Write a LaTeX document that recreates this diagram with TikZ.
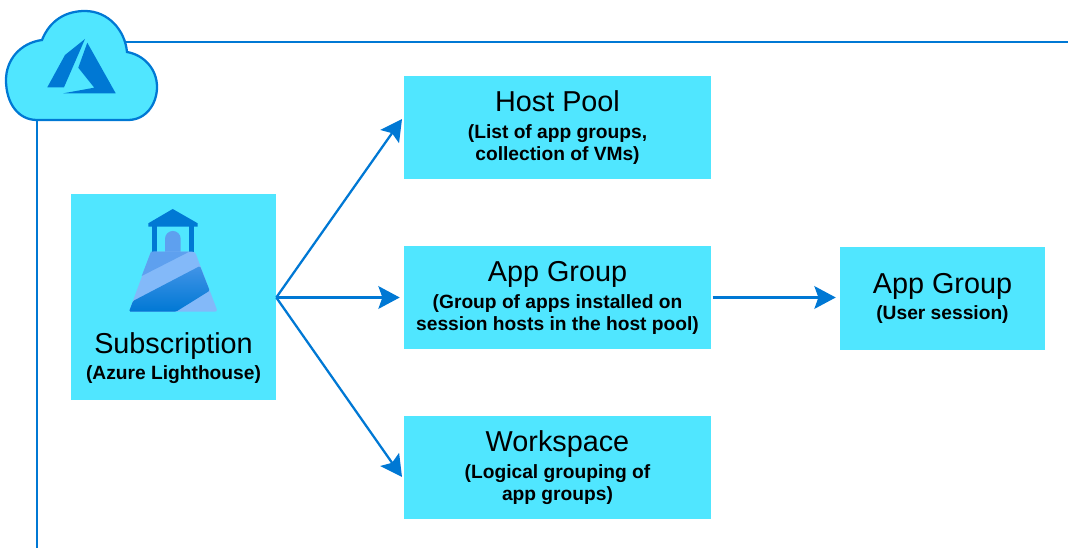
\documentclass[tikz,border=0pt]{standalone}
\usepackage{fontspec}
\setmainfont{Liberation Sans}
\usetikzlibrary{positioning,arrows.meta}
\definecolor{azblue}{HTML}{0078D4}
\definecolor{azcyan}{HTML}{50E6FF}
\definecolor{azmid}{HTML}{5EA0EF}
\definecolor{azlight}{HTML}{83B9F9}
\newcommand{\boxhead}[1]{{\fontsize{21.6pt}{26pt}\selectfont\mdseries #1}}
\tikzset{
	azbox/.style={fill=azcyan, minimum width=230.25pt, minimum height=77.25pt, align=center, inner sep=0pt, font=\fontsize{14.4pt}{16.5pt}\selectfont\bfseries},
	azlabel/.style={align=center, inner sep=0pt, font=\fontsize{14.4pt}{16.5pt}\selectfont\bfseries},
	azline/.style={draw=azblue, line width=1.7pt},
	azarrow/.style={azline, -{Stealth[length=16pt, width=17pt, inset=3pt]}}
}
\begin{document}
\begin{tikzpicture}[x=0.75pt, y=-0.75pt]
	\useasboundingbox (0,0) rectangle (1068,548);
	\coordinate (F0) at (37,548);
	\coordinate (F1) at (37,110);
	\coordinate (F2) at (120,42);
	\coordinate (F3) at (1068,42);
	\coordinate (hosttip) at (402,119);
	\coordinate (spacetip) at (402,477);
% frame
	\draw[azline] (F0) -- (F1);
	\draw[azline] (F2) -- (F3);
	% cloud
	\draw[azline, fill=azcyan] (37,120) -- (128,120)
		.. controls (146,120) and (157,104) .. (157,87)
		.. controls (157,69) and (144,55) .. (127,52)
		.. controls (125,30) and (108,11) .. (85,11)
		.. controls (66,11) and (50,20) .. (42,40)
		.. controls (20,43) and (6,60) .. (6,80)
		.. controls (6,103) and (18,120) .. (37,120) -- cycle;
	% azure logo
	\fill[azblue] (85,39) -- (65,55) -- (47.3,87.3) -- (64,87.3) -- cycle;
	\fill[azblue] (87.3,42.7) -- (78.3,67.7) -- (94.3,87.7) -- (63.3,93.3) -- (115.7,93.3) -- cycle;
	% boxes
	\node[azbox, minimum width=153.75pt, minimum height=154.5pt] (subscription) at (173.5,297.5) {};
	\node[azbox] (hostpool) at (557.5,127.5) {\boxhead{Host Pool}\\[3.75pt](List of app groups,\\collection of VMs)};
	\node[azbox] (appgroup) at (557.5,297.5) {\boxhead{App Group}\\[3.75pt](Group of apps installed on\\session hosts in the host pool)};
	\node[azbox] (workspace) at (557.5,467.5) {\boxhead{Workspace}\\[3.75pt](Logical grouping of\\app groups)};
	\node[azbox, minimum width=153.75pt] (usersession) at (942.5,298.5) {\boxhead{App Group}\\[3.5pt](User session)};
	\node[azlabel, above=12.5pt of subscription.south] (sublabel) {\boxhead{Subscription}\\[3.25pt](Azure Lighthouse)};
	% lighthouse
	\fill[azblue] (148.3,223.3) -- (172.7,209) -- (197.7,223.3) -- (197.7,226.7) -- (148.3,226.7) -- cycle;
	\fill[azblue] (152.3,226) rectangle (157.3,252);
	\fill[azblue] (188.7,226) rectangle (193.7,252);
	\fill[azmid] (165,252) -- (165,238.8) arc (180:0:7.85 and -7.85) -- (180.7,252) -- cycle;
	\fill[azlight, rounded corners=2pt] (151,251.7) -- (195,251.7) -- (217.7,311.7) -- (129,311.7) -- cycle;
	\fill[azmid] (151,251.7) -- (189.3,251.7) -- (141.7,276) -- cycle;
	\path[top color=azmid!70!azblue, bottom color=azblue, rounded corners=1pt]
		(133,301) -- (200,266) -- (209.7,290.7) -- (176,311.7) -- (129,311.7) -- cycle;
	% arrows
	\draw[azarrow] (subscription.east) -- (hosttip);
	\draw[azarrow] (subscription.east) -- ([xshift=-3pt]appgroup.west);
	\draw[azarrow] (subscription.east) -- (spacetip);
	\draw[azarrow] ([xshift=1pt]appgroup.east) -- ([xshift=-3pt,yshift=0.75pt]usersession.west);
\end{tikzpicture}
\end{document}
